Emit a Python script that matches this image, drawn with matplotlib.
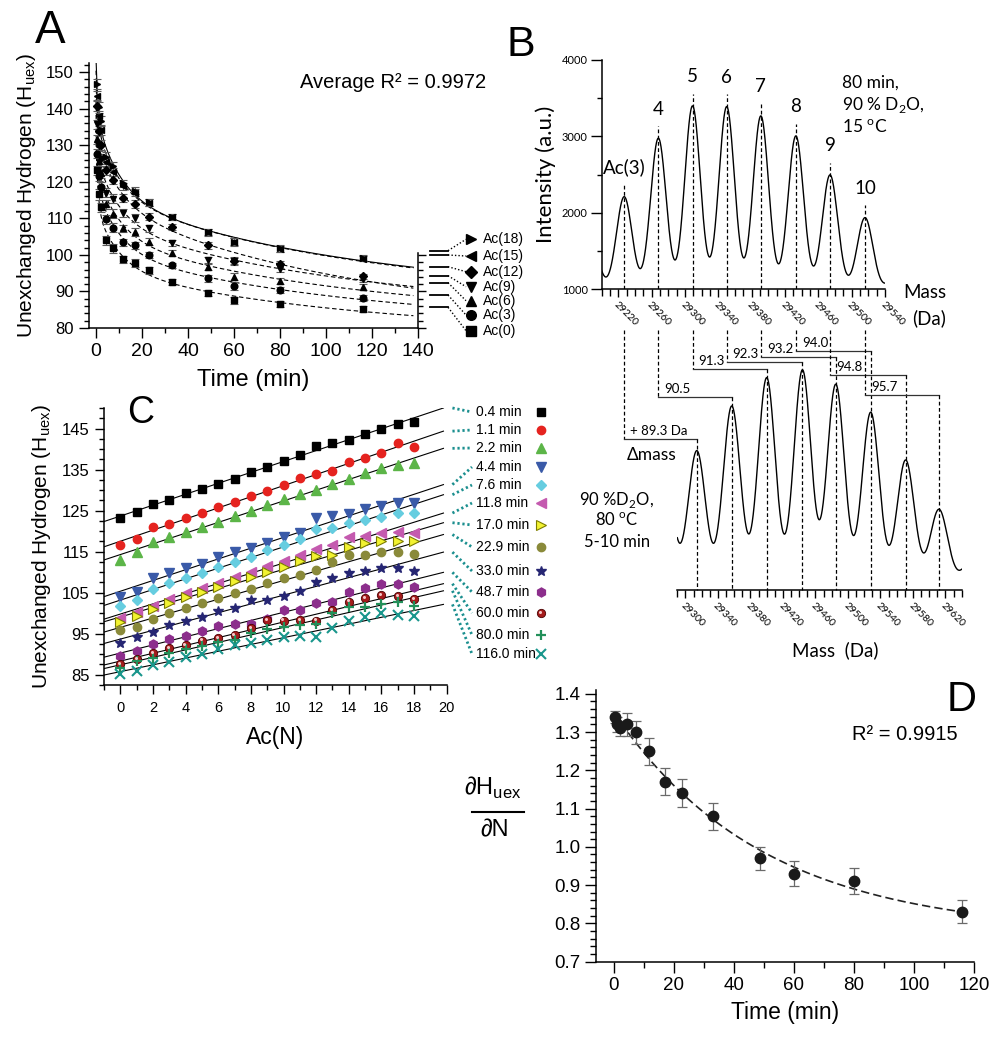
import numpy as np
import matplotlib
matplotlib.use('Agg')
import matplotlib.pyplot as plt
import matplotlib.transforms as mtransforms
from matplotlib.ticker import MultipleLocator, FixedLocator, FormatStrFormatter

W, H = 1003, 1050
plt.rcParams['font.family'] = ['Liberation Sans', 'DejaVu Sans']
plt.rcParams['axes.linewidth'] = 1.1
plt.rcParams['mathtext.fontset'] = 'custom'
plt.rcParams['mathtext.rm'] = 'Liberation Sans'
BFONT = ['Lato', 'DejaVu Sans']

# ---------------- data ----------------
times = [0.4, 1.1, 2.2, 4.4, 7.6, 11.8, 17.0, 22.9, 33.0, 48.7, 60.0, 80.0, 116.0]
time_labels = ['0.4 min', '1.1 min', '2.2 min', '4.4 min', '7.6 min', '11.8 min', '17.0 min',
               '22.9 min', '33.0 min', '48.7 min', '60.0 min', '80.0 min', '116.0 min']
ac_n = list(range(19))

h_0p4 = [123.1, 124.6, 126.6, 127.7, 129.2, 130.2, 131.6, 132.8, 134.4, 135.7, 137.1, 138.5, 140.8, 141.5, 142.2, 143.6, 144.8, 146.0, 146.7]
h_1p1 = [116.6, 118.1, 121.1, 121.7, 123.2, 124.5, 125.8, 127.0, 128.5, 129.8, 131.2, 133.0, 133.9, 134.7, 136.8, 137.9, 139.1, 141.5, 140.4]
h_2p2 = [113.0, 114.8, 117.3, 118.6, 119.7, 121.1, 122.3, 123.7, 125.0, 126.3, 127.8, 129.0, 130.0, 131.4, 132.7, 134.2, 135.3, 136.0, 136.7]
h_4p4 = [104.0, 105.2, 108.5, 109.7, 110.9, 112.0, 113.8, 115.0, 115.8, 117.0, 118.6, 119.5, 123.1, 123.7, 124.1, 125.3, 126.1, 126.8, 126.9]
h_7p6 = [101.8, 103.2, 105.8, 107.4, 108.5, 109.9, 111.3, 112.5, 113.8, 115.4, 116.6, 118.0, 120.5, 120.8, 122.0, 122.7, 123.5, 124.3, 124.3]
h_11p8 = [98.8, 100.2, 101.8, 103.4, 104.9, 106.1, 107.3, 108.9, 110.1, 111.5, 112.8, 114.3, 115.6, 116.6, 118.5, 118.8, 119.6, 119.7, 119.6]
h_17p0 = [97.8, 99.3, 101.0, 102.6, 103.9, 105.1, 106.3, 107.8, 108.7, 110.1, 111.2, 112.8, 113.9, 114.2, 116.2, 117.0, 117.6, 117.7, 117.6]
h_22p9 = [95.8, 96.7, 98.5, 100.0, 101.2, 102.4, 103.6, 104.9, 105.8, 107.3, 108.5, 109.3, 110.5, 112.5, 114.2, 114.3, 114.8, 115.0, 114.4]
h_33p0 = [92.7, 94.1, 95.5, 97.1, 98.2, 99.0, 100.5, 101.2, 103.2, 103.2, 104.2, 105.4, 107.7, 108.5, 109.7, 110.3, 111.1, 111.1, 110.4]
h_48p7 = [89.6, 90.9, 92.4, 93.6, 94.5, 95.6, 96.8, 97.4, 97.3, 98.5, 100.8, 100.8, 102.6, 102.8, 105.1, 106.2, 107.0, 107.0, 106.3]
h_60p0 = [87.6, 88.8, 90.2, 91.5, 92.3, 93.3, 94.0, 94.6, 96.3, 98.4, 98.2, 98.4, 98.2, 100.8, 102.8, 103.6, 104.4, 104.2, 103.5]
h_80p0 = [86.6, 88.3, 89.0, 90.4, 91.3, 92.0, 92.9, 93.5, 95.1, 96.2, 96.7, 97.1, 97.4, 100.1, 101.6, 101.6, 102.3, 102.8, 101.8]
h_116p0 = [85.2, 86.0, 87.3, 88.2, 89.4, 90.1, 91.2, 92.3, 92.7, 93.5, 94.1, 94.5, 94.1, 96.3, 98.2, 99.0, 100.0, 99.6, 99.2]
rows = [h_0p4, h_1p1, h_2p2, h_4p4, h_7p6, h_11p8, h_17p0, h_22p9, h_33p0, h_48p7, h_60p0, h_80p0, h_116p0]

# panel A: Ac(N) series (subset of the table), error bars per time point
series_A_n = [0, 3, 6, 9, 12, 15, 18]
series_A_labels = ['Ac(0)', 'Ac(3)', 'Ac(6)', 'Ac(9)', 'Ac(12)', 'Ac(15)', 'Ac(18)']
err_A = [1.3, 1.5, 1.3, 1.2, 1.2, 1.0, 1.0, 0.9, 0.8, 0.9, 1.0, 0.9, 0.8]

# panel B: spectra (peak masses and intensities)
top_peak_mass = [29227, 29268, 29309, 29350, 29391, 29433, 29474, 29516]
top_peak_int = [2212, 2977, 3400, 3391, 3269, 3007, 2497, 1938]
top_peak_labels = ['Ac(3)', '4', '5', '6', '7', '8', '9', '10']
top_edge_mass = [29186, 29557]
top_edge_int = [1700, 1250]
top_baseline = 1000

bot_peak_mass = [29314, 29357, 29400, 29444, 29485, 29528, 29571, 29612]
bot_peak_int = [1824, 2409, 2780, 2881, 2693, 2327, 1702, 1057]
bot_edge_mass = [29272, 29655]
bot_edge_int = [2000, 450]
bot_baseline = 130
delta_mass = ['+ 89.3 Da', '90.5', '91.3', '92.3', '93.2', '94.0', '94.8', '95.7']

# panel D
slope_D = [1.34, 1.32, 1.31, 1.32, 1.30, 1.25, 1.17, 1.14, 1.08, 0.97, 0.93, 0.91, 0.83]
err_D = [0.015, 0.02, 0.02, 0.03, 0.03, 0.035, 0.035, 0.037, 0.035, 0.03, 0.033, 0.034, 0.03]

# ---------------- figure ----------------
fig = plt.figure(figsize=(W / 100, H / 100), dpi=100)


def rect(l, t, r, b):
    return [l / W, 1 - b / H, (r - l) / W, (b - t) / H]


ov = fig.add_axes([0, 0, 1, 1], zorder=5)
ov.set_xlim(0, W)
ov.set_ylim(H, 0)
ov.axis('off')


def img_xy(ax, x, y):
    X, Y = ax.transData.transform((x, y))
    return X, H - Y


def style_ticks(ax, lmaj, lmin, size, pad, width=1.0):
    ax.tick_params(which='major', direction='out', length=lmaj, width=width, labelsize=size, pad=pad)
    ax.tick_params(which='minor', direction='out', length=lmin, width=width)


t = np.array(times)

# ================= Panel A =================
axA = fig.add_axes(rect(89, 63, 418, 328))
axA.set_facecolor('none')
axA.set_xlim(-3.05, 140)
axA.set_ylim(80, 152.5)
for sp in ['top', 'right']:
    axA.spines[sp].set_visible(False)
axA.xaxis.set_major_locator(MultipleLocator(20))
axA.xaxis.set_minor_locator(MultipleLocator(10))
axA.yaxis.set_major_locator(MultipleLocator(10))
axA.yaxis.set_minor_locator(MultipleLocator(2))
style_ticks(axA, 7, 3.5, 12, 4)
axA.tick_params(axis='x', labelsize=14, pad=4)
markersA = ['s', 'o', '^', 'v', 'D', '<', '>']
msA = [4.5, 4.8, 5, 5, 4.3, 5, 5]
tt = np.linspace(0.0, 138, 800)
taus = [0.9, 10.0, 110.0]
for k, n in enumerate(series_A_n):
    y = np.array([r[n] for r in rows])
    axA.errorbar(t, y, yerr=err_A, fmt=markersA[k], color='black', ms=msA[k], ecolor='#5a5a5a',
                 elinewidth=0.8, capsize=3, capthick=0.8, zorder=3)
    B = np.column_stack([np.ones_like(t)] + [np.exp(-t / tau) for tau in taus])
    c = np.linalg.lstsq(B, y, rcond=None)[0]
    Bt = np.column_stack([np.ones_like(tt)] + [np.exp(-tt / tau) for tau in taus])
    yy = Bt @ c
    ls = '-' if n == 18 else (0, (4, 2.5))
    axA.plot(tt, yy, color='black', lw=0.8, ls=ls, zorder=2)
axA.set_ylabel('Unexchanged Hydrogen (H$_\\mathregular{uex}$)', fontsize=15, labelpad=6)
axA.set_xlabel('Time (min)', fontsize=17, labelpad=6)

axA2 = axA.twinx()
axA2.set_ylim(axA.get_ylim())
for sp in ['top', 'left', 'bottom']:
    axA2.spines[sp].set_visible(False)
axA2.spines['right'].set_bounds(80, 100.5)
axA2.yaxis.set_major_locator(FixedLocator([80, 90, 100]))
axA2.yaxis.set_minor_locator(FixedLocator(list(np.arange(82, 100, 2))))
axA2.tick_params(which='major', direction='out', length=6, width=1.0, labelright=False)
axA2.tick_params(which='minor', direction='out', length=3.5, width=1.0)

ov.text(50, 31, 'A', fontsize=33, ha='center', va='center')
ov.text(393, 83, 'Average R² = 0.9972', fontsize=14.5, ha='center', va='center')

# legend of panel A
leg_line_y = [307.3, 295, 282.7, 275.7, 266.7, 255, 250.7]
leg_mark_y = [330.7, 315, 300.7, 286.7, 271.7, 256, 239.3]
for k in range(7):
    ov.plot([430, 448], [leg_line_y[k], leg_line_y[k]], color='black', lw=1.3)
    ov.plot([448, 466], [leg_line_y[k], leg_mark_y[k]], color='black', lw=1.0, ls=(0, (1, 1.5)))
    ov.plot([471], [leg_mark_y[k]], marker=markersA[k], color='black', ms=msA[k] * 1.45)
    ov.text(483, leg_mark_y[k], series_A_labels[k], fontsize=10, ha='left', va='center')

# ================= Panel B (top spectrum) =================
axB1 = fig.add_axes(rect(601.7, 60, 885, 289.3))
axB1.set_facecolor('none')
axB1.set_xlim(29200, 29540)
axB1.set_ylim(1000, 4000)
for sp in ['top', 'right']:
    axB1.spines[sp].set_visible(False)
sig_top = 9.3
mm = np.linspace(29200, 29540, 1500)
spec = np.full_like(mm, float(top_baseline))
for mu, P in zip(top_peak_mass + top_edge_mass, top_peak_int + top_edge_int):
    spec += (P - top_baseline) * np.exp(-(mm - mu) ** 2 / (2 * sig_top ** 2))
axB1.plot(mm, spec, color='black', lw=1.0)
axB1.vlines(top_peak_mass, 1000, np.array(top_peak_int) + 160, colors='black', lw=0.9,
            linestyles=(0, (3, 2)))
for mu, P, lb in zip(top_peak_mass, top_peak_int, top_peak_labels):
    axB1.annotate(lb, (mu, P), xytext=(0, 21), textcoords='offset points', ha='center',
                  va='center', fontsize=13.5, family=BFONT)
axB1.yaxis.set_major_locator(MultipleLocator(1000))
axB1.yaxis.set_minor_locator(MultipleLocator(500))
axB1.xaxis.set_major_locator(FixedLocator(list(range(29220, 29541, 40))))
axB1.xaxis.set_minor_locator(MultipleLocator(10))
style_ticks(axB1, 8, 3.6, 8, 2)
axB1.tick_params(axis='x', which='major', length=6, pad=2)
axB1.tick_params(axis='x', which='minor', length=5)
axB1.set_xticklabels([str(v) for v in range(29220, 29541, 40)], rotation=-45, ha='left',
                     va='top', rotation_mode='anchor', fontsize=7.5, family=BFONT)
for lab in axB1.get_yticklabels():
    lab.set_family(BFONT)
axB1.set_ylabel('Intensity (a.u.)', fontsize=16, family=BFONT, labelpad=4)

ov.text(842, 82.7, '80 min,', fontsize=12.5, family=BFONT, ha='left', va='center')
ov.text(842, 105, '90 % D$_\\mathregular{2}$O,', fontsize=12.5, family=BFONT, ha='left', va='center')
ov.text(842, 127.3, '15 $^\\mathregular{o}$C', fontsize=12.5, family=BFONT, ha='left', va='center')
ov.text(903, 293, 'Mass', fontsize=13.5, family=BFONT, ha='left', va='center')
ov.text(946, 318, '(Da)', fontsize=13.5, family=BFONT, ha='right', va='center')
ov.text(521, 65, 'B', fontsize=31, ha='center', va='bottom')

# ================= Panel B (bottom spectrum) =================
axB2 = fig.add_axes(rect(677.3, 330, 961.7, 590))
axB2.set_facecolor('none')
axB2.set_xlim(29290, 29640)
axB2.set_ylim(0, 3404)
for sp in ['top', 'right', 'left']:
    axB2.spines[sp].set_visible(False)
axB2.set_yticks([])
sig_bot = 10.5
mb = np.linspace(29290, 29640, 1500)
specb = np.full_like(mb, float(bot_baseline))
for mu, P in zip(bot_peak_mass + bot_edge_mass, bot_peak_int + bot_edge_int):
    specb += (P - bot_baseline) * np.exp(-(mb - mu) ** 2 / (2 * sig_bot ** 2))
axB2.plot(mb, specb, color='black', lw=1.0)
axB2.xaxis.set_major_locator(FixedLocator(list(range(29300, 29621, 40))))
axB2.xaxis.set_minor_locator(MultipleLocator(10))
axB2.tick_params(axis='x', which='major', direction='out', length=6, width=1.0, pad=2)
axB2.tick_params(axis='x', which='minor', direction='out', length=5, width=1.0)
axB2.set_xticklabels([str(v) for v in range(29300, 29621, 40)], rotation=-45, ha='left',
                     va='top', rotation_mode='anchor', fontsize=7.5, family=BFONT)
ov.text(835.5, 650, 'Mass  (Da)', fontsize=13.5, family=BFONT, ha='center', va='center')
ov.text(617, 500, '90 %D$_\\mathregular{2}$O,', fontsize=12, family=BFONT, ha='center', va='center')
ov.text(617, 520, '80 $^\\mathregular{o}$C', fontsize=12, family=BFONT, ha='center', va='center')
ov.text(617, 541.7, '5-10 min', fontsize=12, family=BFONT, ha='center', va='center')
ov.text(651.5, 455, 'Δmass', fontsize=12.5, family=BFONT, ha='center', va='center')

# connectors between the two spectra
conn_y = [439.3, 397.3, 369.3, 361.7, 356.7, 350.7, 375, 395]
_, y_axis_bot = img_xy(axB2, 29300, 0)
for k in range(8):
    xt, _ = img_xy(axB1, top_peak_mass[k], 1000)
    xb, _ = img_xy(axB2, bot_peak_mass[k], 0)
    ov.plot([xt, xt], [330, conn_y[k]], color='black', lw=0.9, ls=(0, (3, 2)))
    ov.plot([xt, xb], [conn_y[k], conn_y[k]], color='#333333', lw=0.9)
    ov.plot([xb, xb], [conn_y[k], y_axis_bot], color='black', lw=0.9, ls=(0, (3, 2)))
    ov.text(xt + 6, conn_y[k] - 8, delta_mass[k], fontsize=9.5, family=BFONT, ha='left', va='center')

# ================= Panel C =================
axC = fig.add_axes(rect(104, 408, 446.7, 685))
axC.set_facecolor('none')
axC.set_xlim(-1, 20)
axC.set_ylim(82.5, 150)
for sp in ['top', 'right']:
    axC.spines[sp].set_visible(False)
axC.xaxis.set_major_locator(MultipleLocator(2))
axC.xaxis.set_minor_locator(MultipleLocator(1))
axC.yaxis.set_major_locator(FixedLocator(list(range(85, 150, 10))))
axC.yaxis.set_minor_locator(MultipleLocator(2.5))
style_ticks(axC, 6.5, 3.5, 12, 4)
axC.tick_params(axis='x', labelsize=10.5, pad=5)
axC.set_ylabel('Unexchanged Hydrogen (H$_\\mathregular{uex}$)', fontsize=15, labelpad=6)
axC.set_xlabel('Ac(N)', fontsize=16.5, labelpad=8)

styles_C = [
    dict(marker='s', color='black', ms=5.5),
    dict(marker='o', color='#e5231f', ms=6),
    dict(marker='^', color='#5cb548', ms=6.5),
    dict(marker='v', color='#3a5aa8', ms=6.5),
    dict(marker='D', color='#66cde0', ms=5.2),
    dict(marker='<', color='#c45aaf', ms=6.5),
    dict(marker='>', color='#f2f230', ms=6.5, mec='#7d7d00', mew=0.8),
    dict(marker='o', color='#8a8a3a', ms=6),
    dict(marker='*', color='#262673', ms=7),
    dict(marker='h', color='#8c2e8c', ms=6.5),
    dict(marker='o', color='#a51c1c', ms=6, mec='#4a0000', mew=0.6),
    dict(marker='+', color='#23905a', ms=7, mew=1.6),
    dict(marker='x', color='#19968c', ms=6.5, mew=1.5),
]
nn = np.array(ac_n)
xl = np.array([-1.0, 19.8])
label_y_C = [412, 430, 448, 467, 485, 503, 525, 547, 571, 592, 613, 635, 654]
hl_C = mtransforms.offset_copy(axC.transData, fig=fig, x=-0.8, y=0.9, units='points')
hl_ov = mtransforms.offset_copy(ov.transData, fig=fig, x=-0.8, y=0.9, units='points')
for i, r in enumerate(rows):
    st = dict(styles_C[i])
    axC.plot(nn, r, ls='none', zorder=3, **st)
    if i == 10:
        axC.plot(nn, r, ls='none', marker='o', ms=2.2, color='#f4c8c8', mew=0, zorder=4, transform=hl_C)
    b1, b0 = np.polyfit(nn, r, 1)
    axC.plot(xl, b0 + b1 * xl, color='black', lw=0.8, zorder=2)
    xe, ye = img_xy(axC, 19.8, b0 + b1 * 19.8)
    ov.plot([xe + 9, 472], [ye, label_y_C[i]], color='#1b8f8f', lw=2.0, ls=(0, (0.8, 1.0)))
    ov.text(476, label_y_C[i], time_labels[i], fontsize=10, ha='left', va='center')
    ov.plot([541], [label_y_C[i]], ls='none', **st)
    if i == 10:
        ov.plot([541], [label_y_C[i]], ls='none', marker='o', ms=2.2, color='#f4c8c8', mew=0, transform=hl_ov)
ov.text(141, 413, 'C', fontsize=27, ha='center', va='center')

# ================= Panel D =================
axD = fig.add_axes(rect(596, 690, 974.3, 961.6))
axD.set_facecolor('none')
axD.set_xlim(-5.85, 120)
axD.set_ylim(0.7, 1.41)
for sp in ['top', 'right']:
    axD.spines[sp].set_visible(False)
axD.xaxis.set_major_locator(MultipleLocator(20))
axD.xaxis.set_minor_locator(MultipleLocator(10))
axD.yaxis.set_major_locator(MultipleLocator(0.1))
axD.yaxis.set_minor_locator(MultipleLocator(0.02))
axD.yaxis.set_major_formatter(FormatStrFormatter('%.1f'))
style_ticks(axD, 8, 4, 13.5, 3)
sd = np.array(slope_D)
best = None
for tau in np.linspace(5, 300, 600):
    Bm = np.column_stack([np.ones_like(t), np.exp(-t / tau)])
    cc = np.linalg.lstsq(Bm, sd, rcond=None)[0]
    rr = np.sum((Bm @ cc - sd) ** 2)
    if best is None or rr < best[0]:
        best = (rr, tau, cc)
_, tau_b, cc_b = best
td = np.linspace(0, 116, 400)
axD.plot(td, cc_b[0] + cc_b[1] * np.exp(-td / tau_b), color='#222222', lw=1.2, ls=(0, (5, 2.5)), zorder=2)
axD.errorbar(t, sd, yerr=err_D, fmt='o', color='#1a1a1a', ms=7.5, ecolor='#6a6a6a', elinewidth=0.9,
             capsize=3.5, capthick=0.9, zorder=3)
axD.set_xlabel('Time (min)', fontsize=16.5, labelpad=5)
ov.text(493, 788, '∂H$_\\mathregular{uex}$', fontsize=17, ha='center', va='center')
ov.plot([472, 524], [811.7, 811.7], color='black', lw=1.5)
ov.text(495, 830, '∂N', fontsize=17, ha='center', va='center')
ov.text(905, 735, 'R² = 0.9915', fontsize=14.5, ha='center', va='center')
ov.text(962, 700, 'D', fontsize=30, ha='center', va='center')

fig.savefig('out.png', dpi=100)
